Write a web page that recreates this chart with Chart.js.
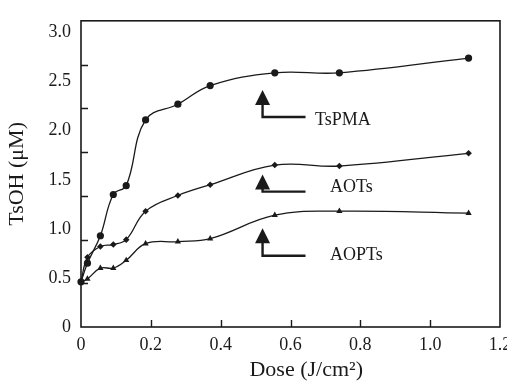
<!DOCTYPE html>
<html>
<head>
<meta charset="utf-8">
<script src="https://cdn.jsdelivr.net/npm/chart.js@4.4.0/dist/chart.umd.min.js"></script>
<style>
html, body { margin: 0; padding: 0; background: #fff; }
#wrap { width: 507px; height: 382px; }
</style>
</head>
<body>
<div id="wrap"><canvas id="doseChart"></canvas></div>
<script>
// exposure dose (J/cm2)
const doses = [0, 0.0185, 0.0555, 0.0925, 0.1295, 0.185, 0.2775, 0.37, 0.555, 0.74, 1.11];
// TsOH generated (uM) for each resist
const tspma = [0.46, 0.65, 0.93, 1.35, 1.44, 2.11, 2.27, 2.46, 2.59, 2.59, 2.74];
const aots  = [0.46, 0.71, 0.82, 0.84, 0.89, 1.18, 1.34, 1.45, 1.65, 1.64, 1.77];
const aopts = [0.46, 0.49, 0.60, 0.60, 0.68, 0.85, 0.87, 0.90, 1.14, 1.18, 1.16];
const xTicks = [0, 0.2, 0.4, 0.6, 0.8, 1.0, 1.2];
const yTicks = [0, 0.5, 1.0, 1.5, 2.0, 2.5, 3.0];

// arrow callouts naming each curve
const callouts = [
    { text: 'TsPMA', tip: 2.415, elbow: 2.14, textX: 0.67, textY: 2.107 },
    { text: 'AOTs', tip: 1.554, elbow: 1.379, textX: 0.713, textY: 1.421 },
    { text: 'AOPTs', tip: 1.007, elbow: 0.726, textX: 0.713, textY: 0.726 }
];

const FONT = '"Liberation Serif", "Times New Roman", serif';
const INK = '#1a1a1a';

const toPoints = ys => ys.map((y, i) => ({ x: doses[i], y: y }));

const series = (label, ys, style, radius) => ({
    label: label,
    data: toPoints(ys),
    borderColor: INK,
    backgroundColor: INK,
    borderWidth: 1.3,
    pointStyle: style,
    pointRadius: radius,
    pointBorderWidth: 0,
    tension: 0.4,
    clip: false
});

// frame, inward tick marks, x title and the arrow callouts
const decor = {
    id: 'decor',
    afterDraw(chart) {
        const { ctx, chartArea: a, scales: { x, y } } = chart;
        ctx.save();
        ctx.strokeStyle = INK;
        ctx.lineWidth = 1.6;
        ctx.strokeRect(a.left, a.top, a.right - a.left, a.bottom - a.top);

        ctx.lineWidth = 1.4;
        ctx.beginPath();
        xTicks.slice(1, -1).forEach(v => {
            const px = Math.round(x.getPixelForValue(v)) + 0.5;
            ctx.moveTo(px, a.bottom);
            ctx.lineTo(px, a.bottom - 7);
        });
        for (let i = 1; i < 7; i++) {
            const py = Math.round(a.bottom - (a.bottom - a.top) * i / 7) + 0.5;
            ctx.moveTo(a.left, py);
            ctx.lineTo(a.left + 7, py);
        }
        ctx.stroke();

        ctx.fillStyle = INK;
        ctx.font = '22px ' + FONT;
        ctx.textAlign = 'center';
        ctx.textBaseline = 'middle';
        ctx.fillText('Dose (J/cm²)', x.getPixelForValue(0.645), x.bottom - 12);

        const sx = x.getPixelForValue(0.52);
        const ex = x.getPixelForValue(0.643);
        ctx.lineWidth = 2.4;
        ctx.font = '18px ' + FONT;
        ctx.textAlign = 'left';
        callouts.forEach(c => {
            const tipY = y.getPixelForValue(c.tip);
            const elbowY = y.getPixelForValue(c.elbow);
            ctx.beginPath();
            ctx.moveTo(sx, tipY);
            ctx.lineTo(sx - 7.5, tipY + 15);
            ctx.lineTo(sx + 7.5, tipY + 15);
            ctx.closePath();
            ctx.fill();
            ctx.beginPath();
            ctx.moveTo(sx, tipY + 14);
            ctx.lineTo(sx, elbowY);
            ctx.lineTo(ex, elbowY);
            ctx.stroke();
            ctx.fillText(c.text, x.getPixelForValue(c.textX), y.getPixelForValue(c.textY));
        });
        ctx.restore();
    }
};

new Chart(document.getElementById('doseChart'), {
    type: 'line',
    data: {
        datasets: [
            series('TsPMA', tspma, 'circle', 3.6),
            series('AOTs', aots, 'rectRot', 3.3),
            series('AOPTs', aopts, 'triangle', 3.6)
        ]
    },
    options: {
        responsive: true,
        maintainAspectRatio: false,
        animation: false,
        layout: { padding: { top: 13, right: 7, left: 0, bottom: 0 } },
        plugins: { legend: { display: false }, tooltip: { enabled: false } },
        scales: {
            x: {
                type: 'linear',
                min: 0,
                max: 1.2,
                grid: { display: false, drawTicks: false },
                border: { display: false },
                afterBuildTicks: s => { s.ticks = xTicks.map(v => ({ value: v })); },
                afterFit: s => { s.height = 55; s.paddingLeft = 0; s.paddingRight = 0; },
                ticks: {
                    padding: 7,
                    color: INK,
                    font: { family: FONT, size: 18 },
                    maxRotation: 0,
                    callback: v => v === 0 ? '0' : v.toFixed(1)
                }
            },
            y: {
                min: 0,
                max: 3.12,
                grid: { display: false, drawTicks: false },
                border: { display: false },
                afterBuildTicks: s => { s.ticks = yTicks.map(v => ({ value: v })); },
                afterFit: s => { s.width = 81; },
                ticks: {
                    padding: 10,
                    color: INK,
                    font: { family: FONT, size: 18 },
                    callback: v => v === 0 ? '0' : v.toFixed(1)
                },
                title: {
                    display: true,
                    text: 'TsOH (μM)',
                    color: INK,
                    font: { family: FONT, size: 22 },
                    padding: { top: 4, bottom: 8 }
                }
            }
        }
    },
    plugins: [decor]
});
</script>
</body>
</html>
